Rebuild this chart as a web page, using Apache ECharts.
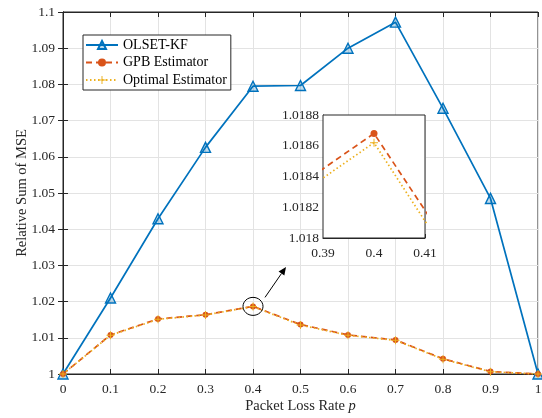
<!DOCTYPE html>
<html><head><meta charset="utf-8">
<script src="https://cdn.jsdelivr.net/npm/echarts@6/dist/echarts.min.js"></script>
<style>html,body{margin:0;padding:0;background:#fff}#c{width:542px;height:418px}</style>
</head><body><div id="c"></div>
<script>
const xValues = [0, 0.1, 0.2, 0.3, 0.4, 0.5, 0.6, 0.7, 0.8, 0.9, 1];
const olsetKF = [1.0, 1.0210, 1.0429, 1.0626, 1.0795, 1.0797, 1.0900, 1.0972, 1.0734, 1.0485, 1.0];
const gpbEst  = [1.0, 1.0108, 1.0152, 1.01638, 1.01868, 1.01368, 1.0108, 1.0094, 1.0042, 1.0007, 1.0];
const optEst  = [1.0, 1.0107, 1.0151, 1.01632, 1.01862, 1.01352, 1.0107, 1.0093, 1.0041, 1.0006, 1.0];
const seriesNames = ['OLSET-KF', 'GPB Estimator', 'Optimal Estimator'];

const C1 = '#0072BD', C2 = '#D95319', C3 = '#EDB120';
const FONT = 'Liberation Serif';
const TXT = '#262626';
const pair = arr => xValues.map((x, i) => [x, arr[i]]);
const plus = 'path://M-0.12,-1 L0.12,-1 L0.12,-0.12 L1,-0.12 L1,0.12 L0.12,0.12 L0.12,1 L-0.12,1 L-0.12,0.12 L-1,0.12 L-1,-0.12 L-0.12,-0.12 Z';

const chart = echarts.init(document.getElementById('c'));
const axLine = {show: true, lineStyle: {color: TXT, width: 1}};
const lbl = {fontFamily: FONT, fontSize: 13.5, color: TXT};
const split = {show: true, lineStyle: {color: '#e3e3e3', width: 1}};

function mkSeries(xi, yi, clip, big) {
  return [
    {name: seriesNames[0], type: 'line', xAxisIndex: xi, yAxisIndex: yi, data: pair(olsetKF), clip: clip,
     symbol: 'triangle', symbolSize: 10, lineStyle: {color: C1, width: 1.7},
     itemStyle: {color: 'rgba(0,114,189,0.25)', borderColor: C1, borderWidth: 1.4}},
    {name: seriesNames[1], type: 'line', xAxisIndex: xi, yAxisIndex: yi, data: pair(gpbEst), clip: clip,
     symbol: 'circle', symbolSize: big ? 7 : 6, lineStyle: {color: C2, width: 1.7, type: [6, 4]},
     itemStyle: {color: C2}},
    {name: seriesNames[2], type: 'line', xAxisIndex: xi, yAxisIndex: yi, data: pair(optEst), clip: clip,
     symbol: plus, symbolSize: 8, lineStyle: {color: C3, width: 1.7, type: [1.5, 2.5]},
     itemStyle: {color: C3}}
  ];
}

const option = {
  animation: false,
  backgroundColor: '#fff',
  grid: [
    {left: 63, right: 4, top: 12, bottom: 44, show: true, borderColor: TXT, borderWidth: 1, z: 0,
     containLabel: false, outerBoundsMode: 'none'},
    {left: 323, top: 115, width: 102, height: 123, show: true, borderColor: TXT, borderWidth: 1, backgroundColor: '#fff', z: 5,
     containLabel: false, outerBoundsMode: 'none'}
  ],
  legend: {
    data: seriesNames, orient: 'vertical', left: 83, top: 35, padding: [2, 4, 2, 2],
    itemGap: 1.5, itemWidth: 32, itemHeight: 10, backgroundColor: '#fff', borderColor: TXT, borderWidth: 1,
    textStyle: {fontFamily: FONT, fontSize: 14, lineHeight: 16, color: '#000'}, z: 10
  },
  xAxis: [
    {type: 'value', gridIndex: 0, min: 0, max: 1, interval: 0.1, axisLine: axLine,
     axisTick: {inside: true, length: 5, lineStyle: {color: TXT}}, axisLabel: Object.assign({margin: 8}, lbl),
     splitLine: split, name: '{a|Packet Loss Rate }{b|p}', nameLocation: 'middle', nameGap: 25, nameMoveOverlap: false,
     nameTextStyle: {rich: {a: {fontFamily: FONT, fontSize: 14.5, color: TXT}, b: {fontFamily: FONT, fontSize: 14.5, color: TXT, fontStyle: 'italic'}}}},
    {type: 'value', gridIndex: 0, position: 'top', min: 0, max: 1, interval: 0.1, axisLine: axLine,
     axisTick: {inside: true, length: 5, lineStyle: {color: TXT}}, axisLabel: {show: false}, splitLine: {show: false}},
    {type: 'value', gridIndex: 1, min: 0.39, max: 0.41, interval: 0.01, axisLine: axLine,
     axisTick: {inside: true, length: 4, lineStyle: {color: TXT}}, axisLabel: Object.assign({margin: 8}, lbl), splitLine: split}
  ],
  yAxis: [
    {type: 'value', gridIndex: 0, min: 1, max: 1.1, interval: 0.01, axisLine: axLine,
     axisTick: {inside: true, length: 5, lineStyle: {color: TXT}}, axisLabel: Object.assign({margin: 8}, lbl),
     splitLine: split, name: 'Relative Sum of MSE', nameLocation: 'middle', nameGap: 33, nameMoveOverlap: false,
     nameTextStyle: {fontFamily: FONT, fontSize: 14.5, color: TXT}},
    {type: 'value', gridIndex: 0, position: 'right', min: 1, max: 1.1, interval: 0.01, axisLine: axLine,
     axisTick: {inside: true, length: 5, lineStyle: {color: TXT}}, axisLabel: {show: false}, splitLine: {show: false}},
    {type: 'value', gridIndex: 1, min: 1.018, max: 1.0188, interval: 0.0002, axisLine: axLine,
     axisTick: {inside: true, length: 4, lineStyle: {color: TXT}}, axisLabel: Object.assign({margin: 4}, lbl), splitLine: split}
  ],
  series: [].concat(mkSeries(0, 0, false, false), mkSeries(2, 2, true, true).map(s => Object.assign(s, {z: 6, legendHoverLink: false})))
};
chart.setOption(option);

// annotation: ellipse around the zoomed point and an arrow to the inset
const ctr = chart.convertToPixel({xAxisIndex: 0, yAxisIndex: 0}, [xValues[4], gpbEst[4]]);
const insetCorner = chart.convertToPixel({xAxisIndex: 2, yAxisIndex: 2}, [0.39, 1.018]);
const start = [ctr[0] + 12, ctr[1] - 9];
const end = [insetCorner[0] - 37, insetCorner[1] + 29];
const ang = Math.atan2(end[1] - start[1], end[0] - start[0]);
const ah = 8, aw = 3.5;
const bx = end[0] - ah * Math.cos(ang), by = end[1] - ah * Math.sin(ang);
chart.setOption({graphic: [
  {type: 'ellipse', shape: {cx: ctr[0], cy: ctr[1], rx: 10, ry: 9}, style: {fill: 'none', stroke: '#000', lineWidth: 1}, z: 20},
  {type: 'line', shape: {x1: start[0], y1: start[1], x2: bx, y2: by}, style: {stroke: '#000', lineWidth: 1}, z: 20},
  {type: 'polygon', shape: {points: [end, [bx + aw * Math.sin(ang), by - aw * Math.cos(ang)], [bx - aw * Math.sin(ang), by + aw * Math.cos(ang)]]}, style: {fill: '#000'}, z: 20}
]});
</script></body></html>
